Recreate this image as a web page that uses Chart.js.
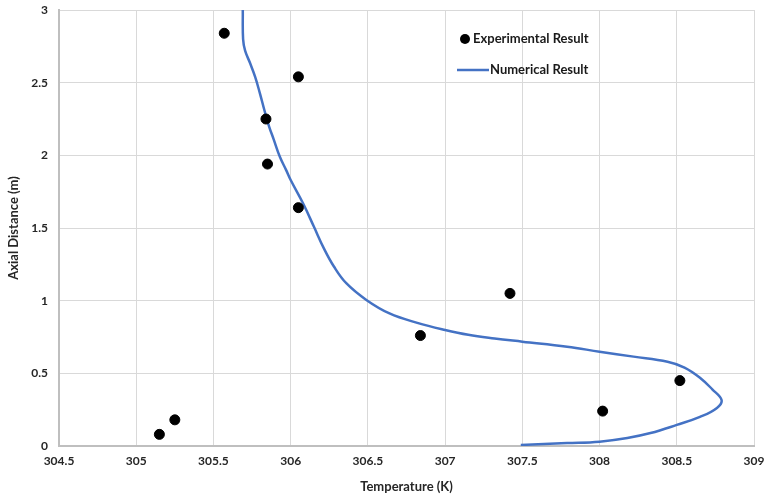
<!DOCTYPE html>
<html>
<head>
<meta charset="utf-8">
<script src="https://cdn.jsdelivr.net/npm/chart.js@4.4.1/dist/chart.umd.min.js"></script>
<style>
  html, body { margin: 0; padding: 0; background: #fff; }
  #wrap { width: 765px; height: 496px; }
</style>
</head>
<body>
<div id="wrap"><canvas id="myChart" width="765" height="496"></canvas></div>
<script>
// experimental points
const expTemp = [305.57, 306.05, 305.84, 305.85, 306.05, 306.84, 307.42, 308.52, 308.02, 305.15, 305.25];
const expDist = [2.84, 2.54, 2.25, 1.94, 1.64, 0.76, 1.05, 0.45, 0.24, 0.08, 0.18];

// numerical curve from top to bottom
const numTemp = [305.69, 305.692, 305.705, 305.737, 305.77, 305.80, 305.83, 305.86, 305.89, 305.93,
  305.97, 306.00, 306.08, 306.15, 306.215, 306.28, 306.36, 306.49, 306.64, 306.82,
  307.00, 307.15, 307.32, 307.50, 307.79, 308.00, 308.22, 308.44, 308.55, 308.65,
  308.73, 308.79, 308.76, 308.65, 308.50, 308.33, 308.18, 308.00, 307.79, 307.49];
const numDist = [3.00, 2.80, 2.72, 2.635, 2.54, 2.43, 2.31, 2.20, 2.11, 1.99,
  1.90, 1.83, 1.67, 1.51, 1.36, 1.235, 1.12, 1.005, 0.912, 0.847,
  0.798, 0.765, 0.740, 0.718, 0.683, 0.649, 0.615, 0.580, 0.540, 0.47,
  0.39, 0.317, 0.262, 0.200, 0.145, 0.089, 0.055, 0.030, 0.020, 0.007];

const xTicks = [304.5, 305, 305.5, 306, 306.5, 307, 307.5, 308, 308.5, 309];
const yTicks = [0, 0.5, 1, 1.5, 2, 2.5, 3];

const labelFont = { family: 'Lato', size: 12, weight: 'bold' };
const titleFont = { family: 'Lato', size: 13, weight: 'bold' };

function pairs(xs, ys) {
  return xs.map((x, i) => ({ x: x, y: ys[i] }));
}

// legend sits inside the plot, top right
const insideLegend = {
  id: 'insideLegend',
  afterDraw(chart) {
    const ctx = chart.ctx;
    const a = chart.chartArea;
    const ds = chart.data.datasets;
    ctx.save();
    ctx.font = 'bold 13px Lato';
    ctx.textBaseline = 'middle';
    // points entry
    let y1 = a.top + 29;
    ctx.beginPath();
    ctx.arc(a.left + 406, y1, 5, 0, Math.PI * 2);
    ctx.fillStyle = '#000';
    ctx.fill();
    ctx.fillStyle = '#1a1a1a';
    ctx.fillText(ds[0].label, a.left + 414, y1);
    // line entry
    let y2 = a.top + 60;
    ctx.beginPath();
    ctx.moveTo(a.left + 398, y2);
    ctx.lineTo(a.left + 430, y2);
    ctx.strokeStyle = '#4472c4';
    ctx.lineWidth = 2.5;
    ctx.stroke();
    ctx.fillText(ds[1].label, a.left + 431, y2);
    ctx.restore();
  }
};

const whiteBg = {
  id: 'whiteBg',
  beforeDraw(chart) {
    const ctx = chart.ctx;
    ctx.save();
    ctx.fillStyle = '#fff';
    ctx.fillRect(0, 0, chart.width, chart.height);
    ctx.restore();
  }
};

const config = {
  type: 'scatter',
  data: {
    datasets: [{
      label: 'Experimental Result',
      data: pairs(expTemp, expDist),
      backgroundColor: '#000',
      borderColor: '#000',
      pointRadius: 5,
      pointHoverRadius: 5,
      showLine: false,
      order: 0
    }, {
      label: 'Numerical Result',
      data: pairs(numTemp, numDist),
      borderColor: '#4472c4',
      backgroundColor: '#4472c4',
      borderWidth: 2.5,
      pointRadius: 0,
      showLine: true,
      tension: 0.4,
      order: 1
    }]
  },
  options: {
    responsive: false,
    animation: false,
    devicePixelRatio: 1,
    layout: { padding: { left: 0, right: 11, top: 10, bottom: 0 } },
    plugins: {
      legend: { display: false },
      tooltip: { enabled: false }
    },
    scales: {
      x: {
        type: 'linear',
        min: 304.5,
        max: 309,
        afterBuildTicks: (scale) => { scale.ticks = xTicks.map(v => ({ value: v })); },
        afterFit: (scale) => { scale.height = 50; scale.paddingLeft = 0; scale.paddingRight = 0; },
        grid: { color: '#d9d9d9', lineWidth: 1, drawTicks: false },
        border: { color: '#bfbfbf', width: 2 },
        ticks: { font: labelFont, color: '#262626', padding: 8, maxRotation: 0, callback: (v) => String(v) },
        title: { display: true, text: 'Temperature (K)', font: titleFont, color: '#262626', padding: { top: 0, bottom: 1 } }
      },
      y: {
        type: 'linear',
        min: 0,
        max: 3,
        afterBuildTicks: (scale) => { scale.ticks = yTicks.map(v => ({ value: v })); },
        afterFit: (scale) => { scale.width = 59; scale.paddingTop = 0; scale.paddingBottom = 0; },
        grid: { color: '#d9d9d9', lineWidth: 1, drawTicks: false },
        border: { color: '#bfbfbf', width: 2 },
        ticks: { font: labelFont, color: '#262626', padding: 11, callback: (v) => String(v) },
        title: { display: true, text: 'Axial Distance (m)', font: titleFont, color: '#262626', padding: { top: 6, bottom: 0 } }
      }
    }
  },
  plugins: [whiteBg, insideLegend]
};

const myChart = new Chart(document.getElementById('myChart'), config);
</script>
</body>
</html>
